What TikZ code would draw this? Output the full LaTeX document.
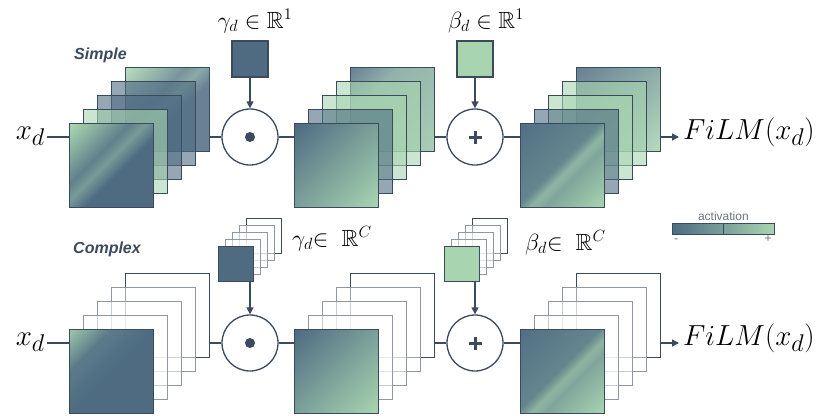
\documentclass[tikz,border=0pt]{standalone}
\usepackage{graphicx}
\usepackage{amssymb}
\usepackage{fontspec}
\newfontfamily\labfont{Liberation Sans}
\usetikzlibrary{arrows.meta}
\definecolor{slate}{HTML}{4E6B82}
\definecolor{leaf}{HTML}{A8D5B0}
\definecolor{ink}{HTML}{3C4A5D}
\definecolor{ghost}{HTML}{8E98A5}
\definecolor{capt}{HTML}{6B7480}
\newcommand{\bigmath}[1]{\scalebox{1.166}{\fontsize{24.88}{30}\selectfont$#1$}}
\newcommand{\parmath}[1]{\scalebox{1.13}{\fontsize{20.74}{25}\selectfont$#1$}}

\pgfdeclarehorizontalshading{shGS}{100bp}{color(0bp)=(leaf); color(16bp)=(leaf); color(30bp)=(leaf!55!slate); color(40bp)=(slate!80!leaf); color(47bp)=(leaf!45!slate); color(56bp)=(slate); color(100bp)=(slate)}
\pgfdeclarehorizontalshading{shSG}{100bp}{color(0bp)=(slate); color(15bp)=(slate); color(85bp)=(leaf); color(100bp)=(leaf)}
\pgfdeclarehorizontalshading{shSB}{100bp}{color(0bp)=(slate); color(15bp)=(slate!95!leaf); color(48bp)=(slate!75!leaf); color(54bp)=(leaf!70!slate); color(60bp)=(slate!45!leaf); color(85bp)=(leaf); color(100bp)=(leaf)}
\pgfdeclarehorizontalshading{shSL}{100bp}{color(0bp)=(slate); color(15bp)=(slate); color(35bp)=(leaf!55!slate); color(85bp)=(leaf!85!slate); color(100bp)=(leaf!85!slate)}
\pgfdeclarehorizontalshading{shGC}{100bp}{color(0bp)=(leaf); color(15bp)=(leaf!85!slate); color(32bp)=(slate!85!leaf); color(50bp)=(slate); color(100bp)=(slate)}
\pgfdeclarehorizontalshading{shBar}{100bp}{color(0bp)=(slate); color(25bp)=(slate); color(75bp)=(leaf); color(100bp)=(leaf)}

\tikzset{
  sq/.style={minimum size=84pt, inner sep=0pt, anchor=north west, draw=ink, line width=1.1pt},
  layerT/.style={sq, fill=#1, fill opacity=.6},
  layerG/.style={sq, shade, shading=#1, shading angle=-45},
  outl/.style={sq, draw=ghost, fill=white, fill opacity=.5, line width=1pt},
  outlB/.style={sq, draw=ink, fill=white, fill opacity=.5},
  smq/.style={minimum size=35pt, inner sep=0pt, anchor=north west, draw=ink, line width=1.1pt},
  smo/.style={smq, draw=ghost, fill=white, fill opacity=.5, line width=1pt},
  smoB/.style={smq, fill=white, fill opacity=.5},
  op/.style={circle, draw=ink, line width=1.3pt, fill=white, minimum size=56pt, inner sep=0pt},
  wire/.style={draw=ink, line width=1.3pt},
  arr/.style={wire, -{Triangle[length=7pt,width=7pt]}},
  bigm/.style={inner sep=0pt},
  parm/.style={inner sep=0pt},
  tag/.style={inner sep=0pt, anchor=base west, text=ink, font=\labfont\bfseries\itshape\fontsize{16}{19}\selectfont},
}

\begin{document}
\begin{tikzpicture}[x=1pt,y=-1pt]
\useasboundingbox (0,0) rectangle (816,415);

% ---------------- top row ----------------
\node[tag] (simple) at (74,59) {Simple};

% stack 1
\node[layerG=shGS, fill opacity=.85] (a4) at (125,67) {};
\node[layerT=slate] (a3) at (111,81) {};
\node[layerT=slate] (a2) at (97,95) {};
\node[layerT=leaf] (a1) at (83,109) {};
\node[layerG=shGS] (a0) at (69,123) {};

% stack 2
\node[layerG=shSL, fill opacity=.85] (b4) at (350,67) {};
\node[layerT=leaf] (b3) at (336,81) {};
\node[layerT=leaf] (b2) at (322,95) {};
\node[layerT=slate] (b1) at (308,109) {};
\node[layerG=shSG] (b0) at (294,123) {};

% stack 3
\node[layerG=shSG, fill opacity=.85] (d4) at (576,67) {};
\node[layerT=leaf] (d3) at (562,81) {};
\node[layerT=leaf] (d2) at (548,95) {};
\node[layerT=slate] (d1) at (534,109) {};
\node[layerG=shSB] (d0) at (520,123) {};

% operators
\node[op] (c1) at (250,137) {};
\node[op] (c2) at (475,137) {};
\fill[ink] (c1.center) circle (5pt);
\draw[ink, line width=3pt] ([xshift=-6.5pt]c2.center) -- ([xshift=6.5pt]c2.center);
\draw[ink, line width=3pt] ([yshift=-6.5pt]c2.center) -- ([yshift=6.5pt]c2.center);

% parameters
\node[minimum size=36pt, inner sep=0pt, draw=ink, line width=1.1pt, fill=slate] (g1) at (250,59) {};
\node[minimum size=36pt, inner sep=0pt, draw=ink, line width=1.1pt, fill=leaf] (e1) at (475,59) {};
\node[parm, anchor=base] (gl1) at (255,28) {\parmath{\gamma_d \in \mathbb{R}^1}};
\node[parm, anchor=base] (el1) at (486,28) {\parmath{\beta_d \in \mathbb{R}^1}};

% io
\coordinate (in1) at (47,137);
\coordinate (out1) at (679,137);
\node[bigm, anchor=mid east] (x1) at ([xshift=-2pt]in1) {\bigmath{x_d}};
\node[bigm, anchor=mid west] (f1) at ([xshift=4pt]out1) {\bigmath{FiLM(x_d)}};

\draw[wire] (in1) -- (in1 -| a0.west);
\draw[wire] (a4.east |- c1.west) -- (c1.west);
\draw[wire] (c1.east) -- (c1.east -| b0.west);
\draw[wire] (b4.east |- c2.west) -- (c2.west);
\draw[wire] (c2.east) -- (c2.east -| d0.west);
\draw[arr] (d4.east |- out1) -- (out1);
\draw[arr] (g1.south) -- (c1.north);
\draw[arr] (e1.south) -- (c2.north);

% ---------------- bottom row ----------------
\node[tag] (complex) at (73,253) {Complex};

% stack 1
\node[outlB] (p4) at (125,273) {};
\node[outl] (p3) at (111,287) {};
\node[outl] (p2) at (97,301) {};
\node[outl] (p1) at (83,315) {};
\node[layerG=shGC] (p0) at (69,329) {};

% stack 2
\node[outlB] (q4) at (350,273) {};
\node[outl] (q3) at (336,287) {};
\node[outl] (q2) at (322,301) {};
\node[outl] (q1) at (308,315) {};
\node[layerG=shSG] (q0) at (294,329) {};

% stack 3
\node[outlB] (r4) at (576,273) {};
\node[outl] (r3) at (562,287) {};
\node[outl] (r2) at (548,301) {};
\node[outl] (r1) at (534,315) {};
\node[layerG=shSB] (r0) at (520,329) {};

% operators
\node[op] (c3) at (250,343) {};
\node[op] (c4) at (475,343) {};
\fill[ink] (c3.center) circle (5pt);
\draw[ink, line width=3pt] ([xshift=-6.5pt]c4.center) -- ([xshift=6.5pt]c4.center);
\draw[ink, line width=3pt] ([yshift=-6.5pt]c4.center) -- ([yshift=6.5pt]c4.center);

% parameter stacks
\node[smoB] (gs4) at (246,218) {};
\node[smo] (gs3) at (239,225) {};
\node[smo] (gs2) at (232,232) {};
\node[smo] (gs1) at (225,239) {};
\node[smq, fill=slate] (gs0) at (218,246) {};
\node[smoB] (es4) at (472,218) {};
\node[smo] (es3) at (465,225) {};
\node[smo] (es2) at (458,232) {};
\node[smo] (es1) at (451,239) {};
\node[smq, fill=leaf] (es0) at (444,246) {};
\node[parm, anchor=base west] (gl2) at (292,246) {\parmath{\gamma_d{\in}\;\;\mathbb{R}^C}};
\node[parm, anchor=base west] (el2) at (525,250) {\parmath{\beta_d{\in}\;\;\mathbb{R}^C}};

% io
\coordinate (in2) at (47,343);
\coordinate (out2) at (679,343);
\node[bigm, anchor=mid east] (x2) at ([xshift=-2pt]in2) {\bigmath{x_d}};
\node[bigm, anchor=mid west] (f2) at ([xshift=4pt]out2) {\bigmath{FiLM(x_d)}};

\draw[wire] (in2) -- (in2 -| p0.west);
\draw[wire] (p4.east |- c3.west) -- (c3.west);
\draw[wire] (c3.east) -- (c3.east -| q0.west);
\draw[wire] (q4.east |- c4.west) -- (c4.west);
\draw[wire] (c4.east) -- (c4.east -| r0.west);
\draw[arr] (r4.east |- out2) -- (out2);
\draw[arr] (gs0.south -| c3.north) -- (c3.north);
\draw[arr] (es0.south -| c4.north) -- (c4.north);

% ---------------- legend ----------------
\node[minimum width=102pt, minimum height=11pt, inner sep=0pt, anchor=north west, draw=ink, line width=.8pt, shade, shading=shBar] (bar) at (672,223) {};
\draw[ink, line width=.8pt] (bar.north) -- (bar.south);
\node[anchor=base, inner sep=0pt, text=capt, font=\labfont\fontsize{12}{14}\selectfont] (act) at (bar.north |- 0,220) {activation};
\node[anchor=base, inner sep=0pt, text=capt, font=\labfont\fontsize{12}{14}\selectfont] (minus) at (676,242) {-};
\node[anchor=base, inner sep=0pt, text=capt, font=\labfont\fontsize{12}{14}\selectfont] (plus) at (768,242) {+};
\end{tikzpicture}
\end{document}
